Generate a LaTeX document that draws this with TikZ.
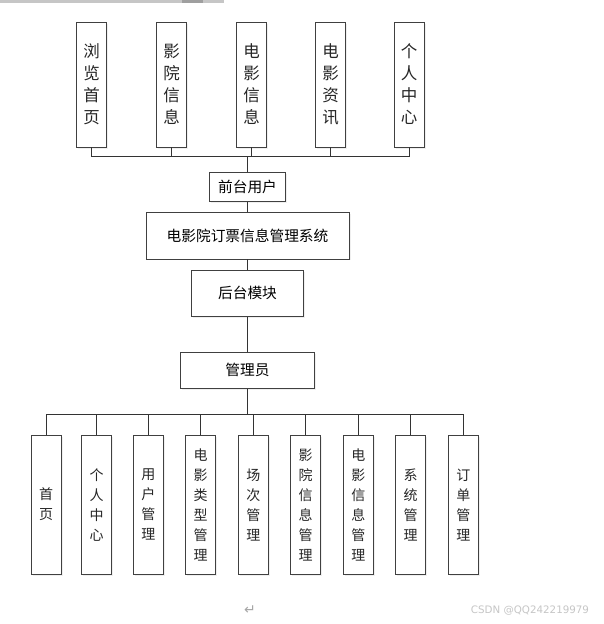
\documentclass[tikz,border=0pt]{standalone}
\usepackage{fontspec}
\setmainfont{Noto Sans CJK SC}
\newfontfamily\symfont{DejaVu Sans}
\usetikzlibrary{shadows}

\begin{document}
\begin{tikzpicture}[
  x=1pt, y=-1pt,
  n/.style={draw=black!75, line width=0.9pt, fill=white, align=center, inner sep=0pt,
    text=black!85, drop shadow={opacity=0.12, shadow xshift=1.5pt, shadow yshift=-1.5pt}},
  top/.style={n, minimum width=30pt, minimum height=125pt, font=\fontsize{16.5}{22}\selectfont},
  low/.style={n, minimum width=30pt, minimum height=139pt, font=\fontsize{14}{20}\selectfont},
  mid/.style={n, text=black, font=\fontsize{14.7}{18}\selectfont},
  l/.style={draw=black!80, line width=1pt}
]
\fill[white] (0,0) rectangle (604,624);
\useasboundingbox (0,0) rectangle (604,624);
% strip at the top edge
\fill[gray!45] (0,0) rectangle (224,3);
\fill[gray!75] (182,0) rectangle (203,3);

% front end
\node[top] (t1) at (91.5,84.5) {浏\\览\\首\\页};
\node[top] (t2) at (171.5,84.5) {影\\院\\信\\息};
\node[top] (t3) at (251.5,84.5) {电\\影\\信\\息};
\node[top] (t4) at (330.5,84.5) {电\\影\\资\\讯};
\node[top] (t5) at (409,84.5) {个\\人\\中\\心};
\coordinate (tb) at (247.5,156);

\node[mid, minimum width=76pt, minimum height=29.5pt] (fu) at (247.5,187) {前台用户};
\node[mid, minimum width=203pt, minimum height=46.5pt] (sys) at (247.5,235.7) {电影院订票信息管理系统};
\node[mid, minimum width=112pt, minimum height=46.5pt] (hm) at (247.5,293.3) {后台模块};
\node[mid, minimum width=134pt, minimum height=36pt] (gly) at (247.5,370.3) {管理员};

% back end
\coordinate (bb) at (247.5,414);
\node[low] (b1) at (46,504.6) {首\\页};
\node[low] (b2) at (96.7,504.6) {个\\人\\中\\心};
\node[low] (b3) at (148.3,504.6) {用\\户\\管\\理};
\node[low] (b4) at (200.7,504.6) {电\\影\\类\\型\\管\\理};
\node[low] (b5) at (253.3,504.6) {场\\次\\管\\理};
\node[low] (b6) at (305.7,504.6) {影\\院\\信\\息\\管\\理};
\node[low] (b7) at (358.3,504.6) {电\\影\\信\\息\\管\\理};
\node[low] (b8) at (410.7,504.6) {系\\统\\管\\理};
\node[low] (b9) at (463.3,504.6) {订\\单\\管\\理};

\foreach \i in {1,...,5} \draw[l] (t\i.south) |- (tb);
\draw[l] (tb) -- (fu.north);
\draw[l] (fu.south) -- (sys.north); \draw[l] (sys.south) -- (hm.north);
\draw[l] (hm.south) -- (gly.north); \draw[l] (gly.south) -- (bb);
\foreach \i in {1,...,9} \draw[l] (b\i.north) |- (bb);

\node[text=gray!70, font=\symfont\fontsize{14}{14}\selectfont] (ret) at (250,610) {↵};
\node[text=gray!45, font=\symfont\fontsize{10.3}{10.3}\selectfont] (wm) at (530,611) {CSDN @QQ242219979};
\end{tikzpicture}
\end{document}
